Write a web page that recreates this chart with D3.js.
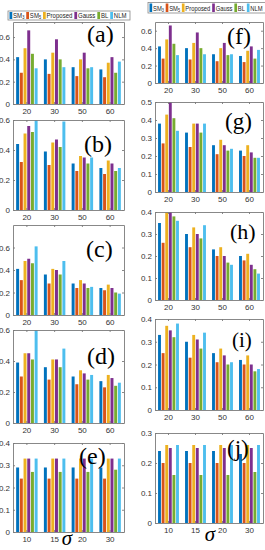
<!DOCTYPE html>
<html>
<head>
<meta charset="utf-8">
<script src="https://cdn.jsdelivr.net/npm/d3@7"></script>
<style>
  html, body { margin: 0; padding: 0; background: #fff; }
  svg { display: block; }
</style>
</head>
<body>
<svg id="chart" width="265" height="550"></svg>
<script>
// methods and sigma categories
var methods = ['SM3', 'SM5', 'Proposed', 'Gauss', 'BL', 'NLM'];
var colors = ['#0072BD', '#D95319', '#EDB120', '#7E2F8E', '#77AC30', '#4DBEEE'];
var sigmaHigh = ['20', '30', '50', '60'];
var sigmaLow = ['10', '15', '20', '30'];

// one row per sigma, one value per method
var dataA = [[0.42, 0.28, 0.50, 0.66, 0.45, 0.32], [0.40, 0.27, 0.46, 0.58, 0.40, 0.33],
             [0.33, 0.25, 0.40, 0.46, 0.32, 0.33], [0.31, 0.24, 0.37, 0.42, 0.28, 0.38]];
var dataB = [[0.44, 0.32, 0.51, 0.56, 0.52, 0.62], [0.39, 0.30, 0.45, 0.47, 0.42, 0.59],
             [0.31, 0.26, 0.36, 0.35, 0.31, 0.35], [0.28, 0.24, 0.33, 0.31, 0.26, 0.28]];
var dataC = [[0.41, 0.31, 0.48, 0.50, 0.46, 0.61], [0.36, 0.28, 0.41, 0.40, 0.36, 0.48],
             [0.28, 0.24, 0.31, 0.28, 0.24, 0.25], [0.24, 0.22, 0.27, 0.24, 0.20, 0.19]];
var dataD = [[0.39, 0.30, 0.45, 0.45, 0.41, 0.62], [0.36, 0.28, 0.41, 0.41, 0.36, 0.48],
             [0.30, 0.25, 0.34, 0.32, 0.28, 0.31], [0.27, 0.23, 0.31, 0.29, 0.24, 0.26]];
var dataE = [[0.29, 0.24, 0.33, 0.33, 0.27, 0.33], [0.29, 0.24, 0.33, 0.33, 0.27, 0.33],
             [0.29, 0.24, 0.33, 0.33, 0.27, 0.33], [0.29, 0.24, 0.33, 0.33, 0.28, 0.33]];
var dataF = [[0.42, 0.28, 0.50, 0.66, 0.45, 0.32], [0.40, 0.27, 0.46, 0.58, 0.40, 0.33],
             [0.33, 0.25, 0.40, 0.46, 0.32, 0.33], [0.31, 0.24, 0.37, 0.42, 0.28, 0.38]];
var dataG = [[0.38, 0.27, 0.43, 0.52, 0.41, 0.34], [0.33, 0.25, 0.38, 0.38, 0.33, 0.38],
             [0.26, 0.21, 0.29, 0.26, 0.23, 0.24], [0.23, 0.20, 0.26, 0.22, 0.19, 0.19]];
var dataH = [[0.35, 0.26, 0.42, 0.42, 0.38, 0.36], [0.30, 0.24, 0.33, 0.30, 0.28, 0.34],
             [0.23, 0.20, 0.24, 0.20, 0.17, 0.16], [0.20, 0.18, 0.21, 0.16, 0.14, 0.12]];
var dataI = [[0.33, 0.25, 0.37, 0.35, 0.32, 0.38], [0.30, 0.23, 0.33, 0.31, 0.27, 0.34],
             [0.25, 0.21, 0.27, 0.24, 0.20, 0.21], [0.22, 0.20, 0.24, 0.20, 0.17, 0.18]];
var dataJ = [[0.24, 0.20, 0.26, 0.25, 0.16, 0.26], [0.24, 0.20, 0.26, 0.25, 0.16, 0.26],
             [0.24, 0.20, 0.26, 0.25, 0.16, 0.26], [0.23, 0.20, 0.26, 0.25, 0.17, 0.26]];

// y tick labels
var ticksWide = [0, 0.2, 0.4, 0.6];
var ticks05 = [0, 0.1, 0.2, 0.3, 0.4, 0.5];
var ticks04 = [0, 0.1, 0.2, 0.3, 0.4];
var ticks03 = [0, 0.1, 0.2, 0.3];

// layout of the ten panels
var L = { x0: 13, x1: 124 }, R = { x0: 155, x1: 263 };
var panels = [
  { name: '(a)', data: dataA, cats: sigmaHigh, ymax: 0.735, ticks: ticksWide, col: L, top: 22, bottom: 104, lx: 87, ly: 42, fs: 24 },
  { name: '(b)', data: dataB, cats: sigmaHigh, ymax: 0.6, ticks: ticksWide, col: L, top: 120, bottom: 210, lx: 84, ly: 152, fs: 24 },
  { name: '(c)', data: dataC, cats: sigmaHigh, ymax: 0.8, ticks: ticksWide, col: L, top: 225, bottom: 315, lx: 86, ly: 257, fs: 24 },
  { name: '(d)', data: dataD, cats: sigmaHigh, ymax: 0.6, ticks: ticksWide, col: L, top: 330, bottom: 423, lx: 87, ly: 364, fs: 24 },
  { name: '(e)', data: dataE, cats: sigmaLow, ymax: 0.4, ticks: ticks04, col: L, top: 443, bottom: 532, lx: 79, ly: 464, fs: 24 },
  { name: '(f)', data: dataF, cats: sigmaHigh, ymax: 0.70, ticks: ticksWide, col: R, top: 22, bottom: 83, lx: 227, ly: 44, fs: 24 },
  { name: '(g)', data: dataG, cats: sigmaHigh, ymax: 0.5, ticks: ticks05, col: R, top: 102, bottom: 192, lx: 225, ly: 129, fs: 23 },
  { name: '(h)', data: dataH, cats: sigmaHigh, ymax: 0.4, ticks: ticks04, col: R, top: 212, bottom: 300, lx: 230, ly: 239, fs: 22 },
  { name: '(i)', data: dataI, cats: sigmaHigh, ymax: 0.4, ticks: ticks04, col: R, top: 319, bottom: 410, lx: 232, ly: 347, fs: 21 },
  { name: '(j)', data: dataJ, cats: sigmaLow, ymax: 0.3, ticks: ticks03, col: R, top: 433, bottom: 523, lx: 227, ly: 456, fs: 23 }
];

var svg = d3.select('#chart');
var axisColor = '#7a7a7a';
var textColor = '#333';
var fmt = function (d) { return d === 0 ? '0' : d3.format('.1f')(d); };

panels.forEach(function (p, i) {
  var x = d3.scaleBand().domain(p.cats).range([p.col.x0, p.col.x1])
    .paddingInner(0.2).paddingOuter(0.1);
  var xs = d3.scaleBand().domain(d3.range(methods.length)).range([0, x.bandwidth()])
    .paddingInner(0.2).paddingOuter(0.1);
  var y = d3.scaleLinear().domain([0, p.ymax]).range([p.bottom, p.top]);

  var clipId = 'clip' + i;
  svg.append('clipPath').attr('id', clipId)
    .append('rect')
    .attr('x', p.col.x0).attr('y', p.top)
    .attr('width', p.col.x1 - p.col.x0).attr('height', p.bottom - p.top);

  var g = svg.append('g');

  g.append('g').attr('clip-path', 'url(#' + clipId + ')')
    .selectAll('g').data(p.data).enter().append('g')
    .attr('transform', function (d, k) { return 'translate(' + x(p.cats[k]) + ',0)'; })
    .selectAll('rect').data(function (d) { return d; }).enter().append('rect')
    .attr('x', function (d, k) { return xs(k); })
    .attr('width', xs.bandwidth())
    .attr('y', function (d) { return y(d); })
    .attr('height', function (d) { return p.bottom - y(d); })
    .attr('fill', function (d, k) { return colors[k]; });

  var left = g.append('g').attr('transform', 'translate(' + p.col.x0 + ',0)')
    .call(d3.axisLeft(y).tickValues(p.ticks).tickFormat(fmt).tickSize(-2).tickPadding(3).tickSizeOuter(0));
  var right = g.append('g').attr('transform', 'translate(' + p.col.x1 + ',0)')
    .call(d3.axisRight(y).tickValues(p.ticks).tickFormat('').tickSize(-2).tickSizeOuter(0));
  var bottom = g.append('g').attr('transform', 'translate(0,' + p.bottom + ')')
    .call(d3.axisBottom(x).tickSize(-2).tickPadding(4).tickSizeOuter(0));
  var top = g.append('g').attr('transform', 'translate(0,' + p.top + ')')
    .call(d3.axisTop(x).tickFormat('').tickSize(-2).tickSizeOuter(0));

  [left, right, bottom, top].forEach(function (a) {
    a.selectAll('path, line').attr('stroke', axisColor).attr('stroke-width', 0.9);
    a.selectAll('text').attr('fill', textColor)
      .attr('font-family', 'Liberation Sans, Arial, sans-serif').attr('font-size', 8);
  });

  g.append('text')
    .attr('x', p.lx).attr('y', p.ly)
    .attr('font-family', 'Liberation Serif, Times New Roman, serif')
    .attr('font-size', p.fs).attr('fill', '#000')
    .text(p.name);
});

// sigma symbols under the last row
svg.append('text').attr('x', 67).attr('y', 545).attr('text-anchor', 'middle')
  .attr('font-family', 'Liberation Serif, serif').attr('font-style', 'italic')
  .attr('font-size', 21).text('σ');
svg.append('text').attr('x', 210).attr('y', 541).attr('text-anchor', 'middle')
  .attr('font-family', 'Liberation Serif, serif').attr('font-style', 'italic')
  .attr('font-size', 21).text('σ');

// legends
function drawLegend(bx, by, bw, bh) {
  var lg = svg.append('g');
  lg.append('rect').attr('x', bx).attr('y', by).attr('width', bw).attr('height', bh)
    .attr('fill', '#fff').attr('stroke', '#888').attr('stroke-width', 0.8);
  var inner = lg.append('g');
  var cx = 0;
  methods.forEach(function (m, k) {
    inner.append('rect').attr('x', cx).attr('y', 1).attr('width', 3.2).attr('height', bh - 2)
      .attr('fill', colors[k]);
    cx += 4.2;
    var t = inner.append('text').attr('x', cx).attr('y', bh - 2.3)
      .attr('font-family', 'Liberation Sans, Arial, sans-serif').attr('font-size', 7)
      .attr('fill', '#222');
    if (m === 'SM3' || m === 'SM5') {
      t.append('tspan').text('SM');
      t.append('tspan').attr('font-size', 4.5).attr('dy', 1.5).text(m.slice(2));
    } else {
      t.text(m);
    }
    cx += t.node().getComputedTextLength() + 2.2;
  });
  var sx = (bw - 3) / cx;
  inner.attr('transform', 'translate(' + (bx + 1.5) + ',' + by + ') scale(' + sx + ',1)');
}
drawLegend(8, 11, 122, 9);
drawLegend(148, 2.5, 118, 10.5);
</script>
</body>
</html>
